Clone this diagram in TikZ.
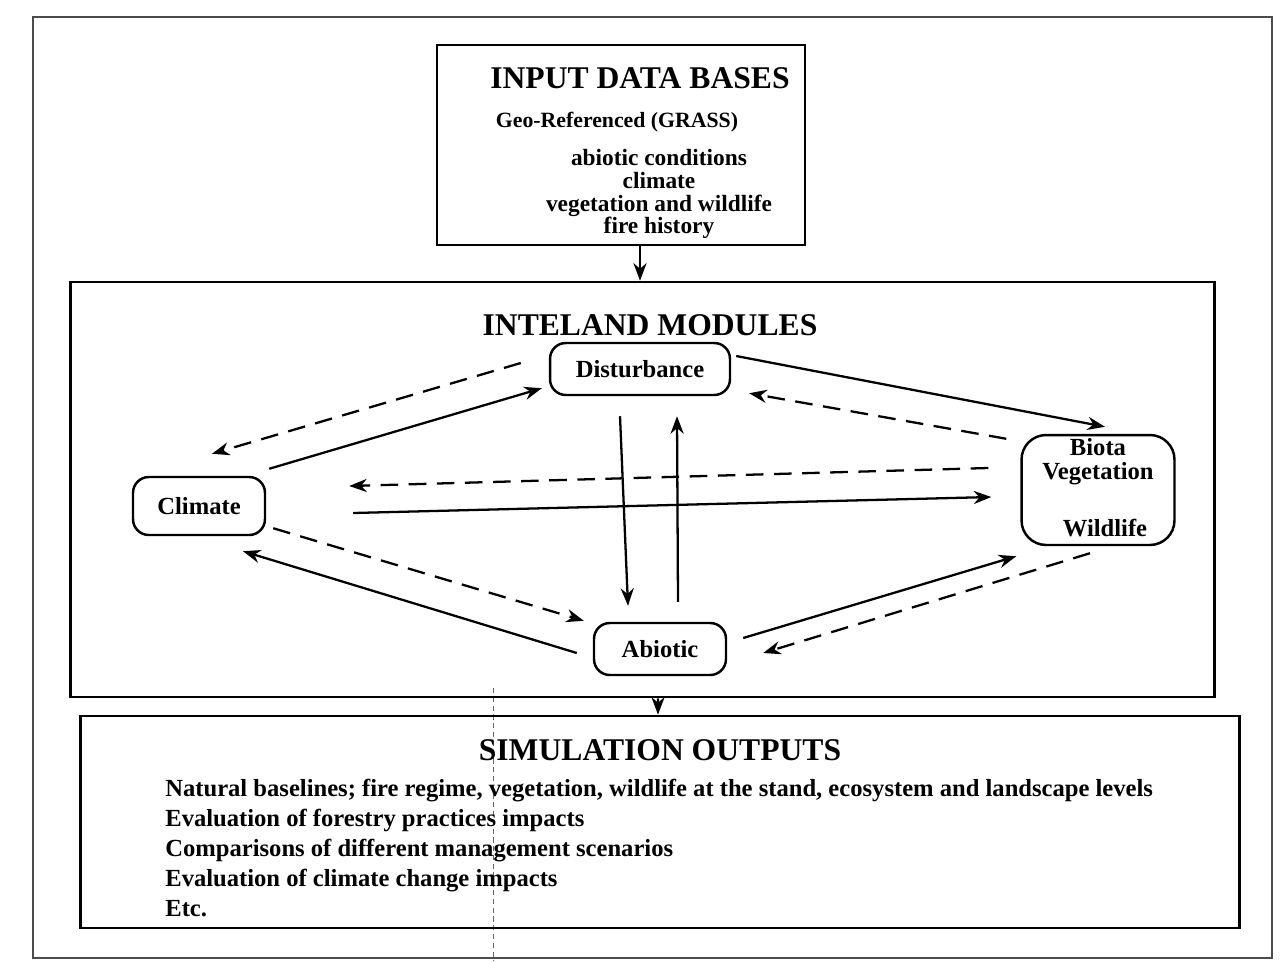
\documentclass[tikz,border=0pt]{standalone}
\usepackage{fontspec}
\setmainfont{Liberation Serif}
\usepackage{tikz}
\usetikzlibrary{arrows.meta}

\begin{document}
\begin{tikzpicture}[x=0.02cm,y=-0.02cm,font=\bfseries]
    \tikzstyle{frame}=[draw=black!70,line width=0.6pt]
    \tikzstyle{bigbox}=[draw,line width=1.6pt,inner sep=0pt]
    \tikzstyle{module}=[draw,rounded corners=9pt,line width=1.4pt,inner sep=0pt,
                        font=\bfseries\fontsize{14}{12}\selectfont]
    \tikzstyle{label}=[inner sep=0pt,font=\bfseries\fontsize{14}{13.5}\selectfont]
    \tikzstyle{title}=[font=\bfseries\fontsize{18}{20}\selectfont]
    \tikzstyle{flow}=[-{Stealth[length=10pt,width=7.5pt]},line width=1.3pt]
    \tikzstyle{feedback}=[flow,dash pattern=on 10pt off 6pt]

    \useasboundingbox (0,0) rectangle (1285,961);

    % Page frame of the scan
    \draw[frame] (33,17) rectangle (1272,958);
    \draw[black!60,line width=0.5pt,dash pattern=on 3pt off 2pt] (493,688) -- (493,961);

    % Input data bases
    \node[bigbox,minimum width=7.36cm,minimum height=4cm] (input) at (621,145) {};
    \node[title] (inputtitle) at (640,78) {INPUT DATA BASES};
    \node[font=\bfseries\fontsize{12.4}{13}\selectfont] (geo) at (617,122) {Geo-Referenced (GRASS)};
    \node[align=center,font=\bfseries\fontsize{13.3}{13}\selectfont] (inputlist) at (659,194)
        {abiotic conditions\\climate\\vegetation and wildlife\\fire history};

    % Inteland modules
    \node[bigbox,minimum width=22.9cm,minimum height=8.3cm] (modules) at (642.5,489.5) {};
    \node[title] (modtitle) at (650,325) {INTELAND MODULES};

    \node[module,minimum width=3.6cm,minimum height=1.04cm] (dist) at (640,369) {Disturbance};
    \node[module,minimum width=2.64cm,minimum height=1.16cm] (clim) at (199,506) {Climate};
    \node[module,minimum width=3.06cm,minimum height=2.2cm,rounded corners=14pt] (biota) at (1098,490) {};
    \node[label,align=center] (veg) at (1098,462) {Biota\\Vegetation};
    \node[label] (wild) at (1105,528) {Wildlife};
    \node[module,minimum width=2.64cm,minimum height=1.04cm] (abio) at (660,649) {Abiotic};

    % Simulation outputs
    \node[bigbox,minimum width=23.2cm,minimum height=4.24cm] (outputs) at (660,822) {};
    \node[title] (outtitle) at (660,750) {SIMULATION OUTPUTS};
    \node[anchor=north west,align=left,inner sep=0pt,font=\bfseries\fontsize{14}{17}\selectfont] (outlist) at (165,779)
        {Natural baselines; fire regime, vegetation, wildlife at the stand, ecosystem and landscape levels\\
         Evaluation of forestry practices impacts\\
         Comparisons of different management scenarios\\
         Evaluation of climate change impacts\\
         Etc.};

    % Flow between the boxes
    \draw[flow] ([shift={(19,0)}]input.south) -- ([shift={(-2.5,0)}]modules.north);
    \draw[flow] ([shift={(15.5,0)}]modules.south) -- ([shift={(-2,0)}]outputs.north);

    % Solid links between the modules
    \draw[flow] ([shift={(3,-7)}]clim.north east) -- ([shift={(-7,-8)}]dist.south west);
    \draw[flow] ([shift={(5,-13)}]dist.east) -- ([shift={(7,-7)}]biota.north);
    \draw[flow] ([shift={(87,7)}]clim.east) -- ([shift={(-29,7)}]biota.west);
    \draw[flow] ([shift={(-16,4)}]abio.west) -- ([shift={(44,15)}]clim.south);
    \draw[flow] ([shift={(-20,20)}]dist.south) -- ([shift={(-32,-16)}]abio.north);
    \draw[flow] ([shift={(18,-20)}]abio.north) -- ([shift={(37,20)}]dist.south);
    \draw[flow] ([shift={(16,-11)}]abio.east) -- ([shift={(-4,10)}]biota.south west);

    % Dashed feedbacks
    \draw[feedback] ([shift={(-28,-6)}]dist.west) -- ([shift={(13,-22)}]clim.north);
    \draw[feedback] ([shift={(-14,5)}]biota.north west) -- ([shift={(18,-3)}]dist.south east);
    \draw[feedback] ([shift={(-32,-22)}]biota.west) -- ([shift={(83,-20)}]clim.east);
    \draw[feedback] ([shift={(7,-8)}]clim.south east) -- ([shift={(-9,-1)}]abio.north west);
    \draw[feedback] ([shift={(-8,7)}]biota.south) -- ([shift={(36,4)}]abio.east);
\end{tikzpicture}
\end{document}
